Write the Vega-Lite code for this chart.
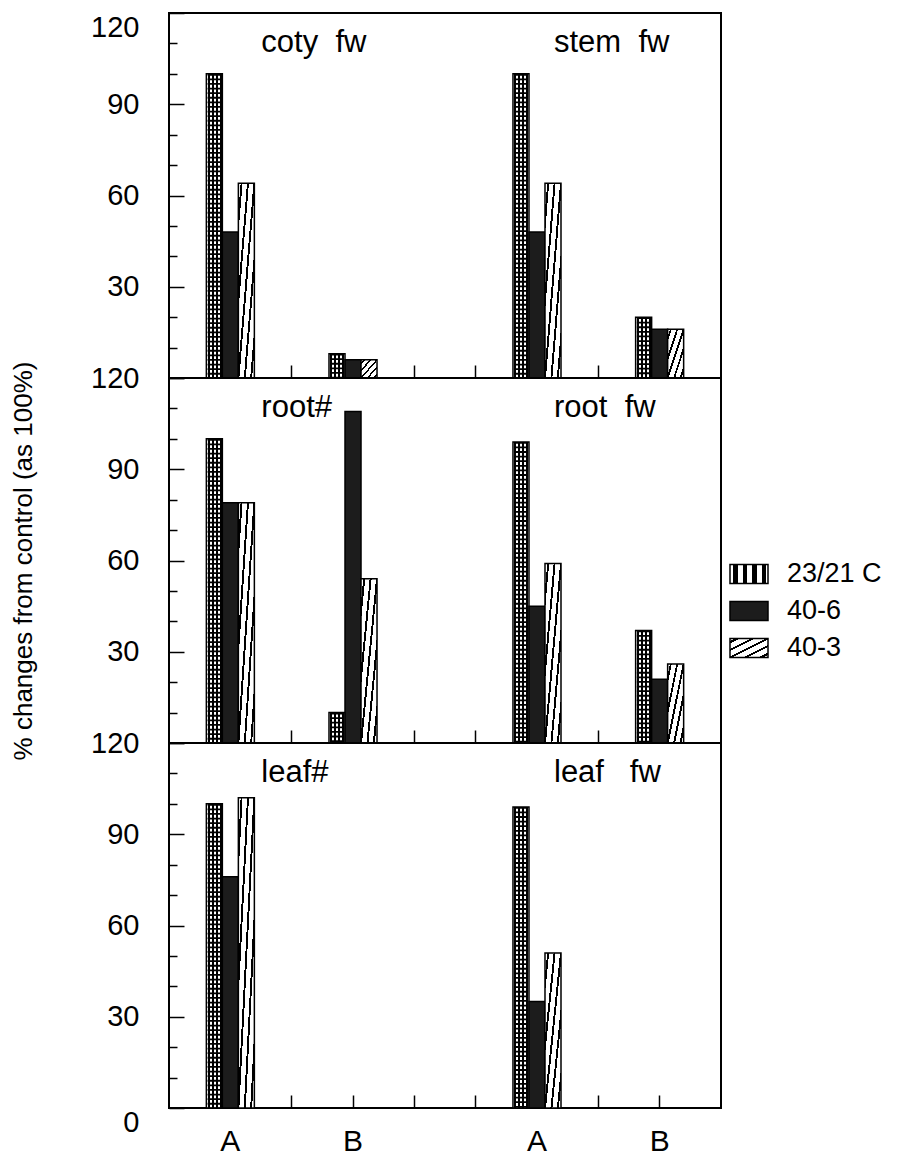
{
  "$schema": "https://vega.github.io/schema/vega-lite/v6.json",
  "padding": {"left": 9, "top": 11, "right": 5, "bottom": 3},
  "background": "white",
  "bounds": "flush",
  "spacing": 0,
  "config": {
    "font": "Liberation Sans",
    "view": {"stroke": "black", "strokeWidth": 2},
    "axis": {
      "domain": false, "grid": false, "tickColor": "black", "tickWidth": 1.5,
      "labelColor": "black", "labelFont": "Liberation Sans", "labelFontSize": 29,
      "labelOverlap": false, "labelFlush": false, "labelBound": false, "labelAngle": 0,
      "titleFont": "Liberation Sans", "titleColor": "black", "titleFontWeight": "normal"
    },
    "axisX": {"tickSize": -13, "labelPadding": 31, "labelFontSize": 30}
  },
  "resolve": {"scale": {"x": "independent", "y": "independent", "fill": "shared"}, "legend": {"fill": "shared"}},
  "data": {"values": [
    {"row": 1, "measure": "coty\u00a0\u00a0fw", "pos": "A1", "series": "23/21 C", "value": 100},
    {"row": 1, "measure": "coty\u00a0\u00a0fw", "pos": "A1", "series": "40-6", "value": 48},
    {"row": 1, "measure": "coty\u00a0\u00a0fw", "pos": "A1", "series": "40-3", "value": 64},
    {"row": 1, "measure": "coty\u00a0\u00a0fw", "pos": "B1", "series": "23/21 C", "value": 8},
    {"row": 1, "measure": "coty\u00a0\u00a0fw", "pos": "B1", "series": "40-6", "value": 6},
    {"row": 1, "measure": "coty\u00a0\u00a0fw", "pos": "B1", "series": "40-3", "value": 6},
    {"row": 1, "measure": "stem\u00a0\u00a0fw", "pos": "A2", "series": "23/21 C", "value": 100},
    {"row": 1, "measure": "stem\u00a0\u00a0fw", "pos": "A2", "series": "40-6", "value": 48},
    {"row": 1, "measure": "stem\u00a0\u00a0fw", "pos": "A2", "series": "40-3", "value": 64},
    {"row": 1, "measure": "stem\u00a0\u00a0fw", "pos": "B2", "series": "23/21 C", "value": 20},
    {"row": 1, "measure": "stem\u00a0\u00a0fw", "pos": "B2", "series": "40-6", "value": 16},
    {"row": 1, "measure": "stem\u00a0\u00a0fw", "pos": "B2", "series": "40-3", "value": 16},
    {"row": 2, "measure": "root#", "pos": "A1", "series": "23/21 C", "value": 100},
    {"row": 2, "measure": "root#", "pos": "A1", "series": "40-6", "value": 79},
    {"row": 2, "measure": "root#", "pos": "A1", "series": "40-3", "value": 79},
    {"row": 2, "measure": "root#", "pos": "B1", "series": "23/21 C", "value": 10},
    {"row": 2, "measure": "root#", "pos": "B1", "series": "40-6", "value": 109},
    {"row": 2, "measure": "root#", "pos": "B1", "series": "40-3", "value": 54},
    {"row": 2, "measure": "root\u00a0\u00a0fw", "pos": "A2", "series": "23/21 C", "value": 99},
    {"row": 2, "measure": "root\u00a0\u00a0fw", "pos": "A2", "series": "40-6", "value": 45},
    {"row": 2, "measure": "root\u00a0\u00a0fw", "pos": "A2", "series": "40-3", "value": 59},
    {"row": 2, "measure": "root\u00a0\u00a0fw", "pos": "B2", "series": "23/21 C", "value": 37},
    {"row": 2, "measure": "root\u00a0\u00a0fw", "pos": "B2", "series": "40-6", "value": 21},
    {"row": 2, "measure": "root\u00a0\u00a0fw", "pos": "B2", "series": "40-3", "value": 26},
    {"row": 3, "measure": "leaf#", "pos": "A1", "series": "23/21 C", "value": 100},
    {"row": 3, "measure": "leaf#", "pos": "A1", "series": "40-6", "value": 76},
    {"row": 3, "measure": "leaf#", "pos": "A1", "series": "40-3", "value": 102},
    {"row": 3, "measure": "leaf\u00a0\u00a0\u00a0fw", "pos": "A2", "series": "23/21 C", "value": 99},
    {"row": 3, "measure": "leaf\u00a0\u00a0\u00a0fw", "pos": "A2", "series": "40-6", "value": 35},
    {"row": 3, "measure": "leaf\u00a0\u00a0\u00a0fw", "pos": "A2", "series": "40-3", "value": 51}
  ]},
  "vconcat": [
    {
      "width": 552, "height": 365,
      "transform": [{"filter": "datum.row === 1"}],
      "encoding": {
        "x": {"field": "pos", "type": "nominal", "scale": {"domain": ["A1", "s2", "B1", "s4", "s5", "A2", "s7", "B2"], "paddingInner": 0.217, "paddingOuter": 0.609}, "axis": {"labels": false, "title": null}},
        "y": {"field": "value", "type": "quantitative", "scale": {"domain": [0, 120], "nice": false},
          "axis": {"values": [0, 10, 20, 30, 40, 50, 60, 70, 80, 90, 100, 110, 120], "title": null,
            "labelExpr": "datum.value % 30 === 0 && datum.value > 0 ? datum.label : ''",
            "labelBaseline": {"condition": {"test": "datum.value === 120", "value": "top"}, "value": "middle"},
            "tickSize": {"condition": {"test": "datum.value % 30 === 0", "value": -15}, "value": -8},
            "labelPadding": 45}}
      },
      "layer": [
        {
          "mark": {"type": "bar", "stroke": "black", "strokeWidth": 1.5},
          "encoding": {
            "xOffset": {"field": "series", "type": "nominal", "scale": {"domain": ["23/21 C", "40-6", "40-3"], "paddingInner": 0, "paddingOuter": 0}},
            "fill": {"field": "series", "type": "nominal",
              "scale": {"domain": ["23/21 C", "40-6", "40-3"], "range": [
                {"expr": "{gradient:'linear',x1:0,y1:0,x2:1,y2:0,stops:[{offset:0,color:'#fff'},{offset:0.08,color:'#fff'},{offset:0.08,color:'#000'},{offset:0.2,color:'#000'},{offset:0.2,color:'#fff'},{offset:0.33,color:'#fff'},{offset:0.33,color:'#000'},{offset:0.45,color:'#000'},{offset:0.45,color:'#fff'},{offset:0.58,color:'#fff'},{offset:0.58,color:'#000'},{offset:0.7,color:'#000'},{offset:0.7,color:'#fff'},{offset:0.83,color:'#fff'},{offset:0.83,color:'#000'},{offset:0.95,color:'#000'},{offset:0.95,color:'#fff'},{offset:1,color:'#fff'}]}"},
                "#1c1c1c",
                {"expr": "{gradient:'linear',x1:0,y1:0,x2:1,y2:1,stops:[{offset:0,color:'#fff'},{offset:0.07,color:'#fff'},{offset:0.07,color:'#000'},{offset:0.13,color:'#000'},{offset:0.13,color:'#fff'},{offset:0.27,color:'#fff'},{offset:0.27,color:'#000'},{offset:0.33,color:'#000'},{offset:0.33,color:'#fff'},{offset:0.47,color:'#fff'},{offset:0.47,color:'#000'},{offset:0.53,color:'#000'},{offset:0.53,color:'#fff'},{offset:0.67,color:'#fff'},{offset:0.67,color:'#000'},{offset:0.73,color:'#000'},{offset:0.73,color:'#fff'},{offset:0.87,color:'#fff'},{offset:0.87,color:'#000'},{offset:0.93,color:'#000'},{offset:0.93,color:'#fff'},{offset:1,color:'#fff'}]}"}
              ]},
              "legend": {"title": null, "orient": "none", "legendX": 560, "legendY": 541, "padding": 0,
                "symbolType": "M-1,-0.5H1V0.5H-1Z", "symbolSize": 1444, "symbolStrokeColor": "black", "symbolStrokeWidth": 1.5, "symbolOpacity": 1,
                "labelFontSize": 27, "labelFont": "Liberation Sans", "labelColor": "black", "labelOffset": 18, "rowPadding": 4}}
          }
        },
        {
          "transform": [{"filter": "datum.series === '23/21 C'"}],
          "mark": {"type": "rule", "stroke": "black", "strokeWidth": 13.5, "strokeDash": [1.8, 2.8]},
          "encoding": {
            "xOffset": {"field": "series", "type": "nominal", "scale": {"domain": ["23/21 C", "40-6", "40-3"], "paddingInner": 0, "paddingOuter": 0}},
            "y2": {"datum": 0}
          }
        },
        {
          "transform": [{"filter": "datum.pos === 'A1' && datum.series === '23/21 C'"}],
          "mark": {"type": "text", "align": "left", "baseline": "middle", "dx": 31, "fontSize": 31, "color": "black"},
          "encoding": {"y": {"datum": 110, "type": "quantitative",
            "axis": {"values": [0, 10, 20, 30, 40, 50, 60, 70, 80, 90, 100, 110, 120], "title": null,
              "labelExpr": "datum.value % 30 === 0 && datum.value > 0 ? datum.label : ''",
              "labelBaseline": {"condition": {"test": "datum.value === 120", "value": "top"}, "value": "middle"},
              "tickSize": {"condition": {"test": "datum.value % 30 === 0", "value": -15}, "value": -8},
              "labelPadding": 45}}, "text": {"field": "measure"}}
        },
        {
          "transform": [{"filter": "datum.pos === 'A2' && datum.series === '23/21 C'"}],
          "mark": {"type": "text", "align": "left", "baseline": "middle", "dx": 17, "fontSize": 31, "color": "black"},
          "encoding": {"y": {"datum": 110, "type": "quantitative",
            "axis": {"values": [0, 10, 20, 30, 40, 50, 60, 70, 80, 90, 100, 110, 120], "title": null,
              "labelExpr": "datum.value % 30 === 0 && datum.value > 0 ? datum.label : ''",
              "labelBaseline": {"condition": {"test": "datum.value === 120", "value": "top"}, "value": "middle"},
              "tickSize": {"condition": {"test": "datum.value % 30 === 0", "value": -15}, "value": -8},
              "labelPadding": 45}}, "text": {"field": "measure"}}
        }
      ]
    },
    {
      "width": 552, "height": 365,
      "transform": [{"filter": "datum.row === 2"}],
      "encoding": {
        "x": {"field": "pos", "type": "nominal", "scale": {"domain": ["A1", "s2", "B1", "s4", "s5", "A2", "s7", "B2"], "paddingInner": 0.217, "paddingOuter": 0.609}, "axis": {"labels": false, "title": null}},
        "y": {"field": "value", "type": "quantitative", "scale": {"domain": [0, 120], "nice": false},
          "axis": {"values": [0, 10, 20, 30, 40, 50, 60, 70, 80, 90, 100, 110, 120],
            "title": "% changes from control (as 100%)", "titleFontSize": 26, "titlePadding": 54,
            "labelExpr": "datum.value % 30 === 0 && datum.value > 0 ? datum.label : ''",
            "labelBaseline": "middle",
            "tickSize": {"condition": {"test": "datum.value % 30 === 0", "value": -15}, "value": -8},
            "labelPadding": 45}}
      },
      "layer": [
        {
          "mark": {"type": "bar", "stroke": "black", "strokeWidth": 1.5},
          "encoding": {
            "xOffset": {"field": "series", "type": "nominal", "scale": {"domain": ["23/21 C", "40-6", "40-3"], "paddingInner": 0, "paddingOuter": 0}},
            "fill": {"field": "series", "type": "nominal",
              "scale": {"domain": ["23/21 C", "40-6", "40-3"]},
              "legend": {"title": null, "orient": "none", "legendX": 560, "legendY": 541, "padding": 0,
                "symbolType": "M-1,-0.5H1V0.5H-1Z", "symbolSize": 1444, "symbolStrokeColor": "black", "symbolStrokeWidth": 1.5, "symbolOpacity": 1,
                "labelFontSize": 27, "labelFont": "Liberation Sans", "labelColor": "black", "labelOffset": 18, "rowPadding": 4}}
          }
        },
        {
          "transform": [{"filter": "datum.series === '23/21 C'"}],
          "mark": {"type": "rule", "stroke": "black", "strokeWidth": 13.5, "strokeDash": [1.8, 2.8]},
          "encoding": {
            "xOffset": {"field": "series", "type": "nominal", "scale": {"domain": ["23/21 C", "40-6", "40-3"], "paddingInner": 0, "paddingOuter": 0}},
            "y2": {"datum": 0}
          }
        },
        {
          "transform": [{"filter": "datum.pos === 'A1' && datum.series === '23/21 C'"}],
          "mark": {"type": "text", "align": "left", "baseline": "middle", "dx": 31, "fontSize": 31, "color": "black"},
          "encoding": {"y": {"datum": 110, "type": "quantitative",
            "axis": {"values": [0, 10, 20, 30, 40, 50, 60, 70, 80, 90, 100, 110, 120],
              "title": "% changes from control (as 100%)", "titleFontSize": 26, "titlePadding": 54,
              "labelExpr": "datum.value % 30 === 0 && datum.value > 0 ? datum.label : ''",
              "labelBaseline": "middle",
              "tickSize": {"condition": {"test": "datum.value % 30 === 0", "value": -15}, "value": -8},
              "labelPadding": 45}}, "text": {"field": "measure"}}
        },
        {
          "transform": [{"filter": "datum.pos === 'A2' && datum.series === '23/21 C'"}],
          "mark": {"type": "text", "align": "left", "baseline": "middle", "dx": 17, "fontSize": 31, "color": "black"},
          "encoding": {"y": {"datum": 110, "type": "quantitative",
            "axis": {"values": [0, 10, 20, 30, 40, 50, 60, 70, 80, 90, 100, 110, 120],
              "title": "% changes from control (as 100%)", "titleFontSize": 26, "titlePadding": 54,
              "labelExpr": "datum.value % 30 === 0 && datum.value > 0 ? datum.label : ''",
              "labelBaseline": "middle",
              "tickSize": {"condition": {"test": "datum.value % 30 === 0", "value": -15}, "value": -8},
              "labelPadding": 45}}, "text": {"field": "measure"}}
        }
      ]
    },
    {
      "width": 552, "height": 365,
      "transform": [{"filter": "datum.row === 3"}],
      "encoding": {
        "x": {"field": "pos", "type": "nominal", "scale": {"domain": ["A1", "s2", "B1", "s4", "s5", "A2", "s7", "B2"], "paddingInner": 0.217, "paddingOuter": 0.609},
          "axis": {"title": null, "labelExpr": "indexof(['A1','B1','A2','B2'], datum.value) >= 0 ? slice(datum.value, 0, 1) : ''"}},
        "y": {"field": "value", "type": "quantitative", "scale": {"domain": [0, 120], "nice": false},
          "axis": {"values": [0, 10, 20, 30, 40, 50, 60, 70, 80, 90, 100, 110, 120], "title": null,
            "labelExpr": "datum.value % 30 === 0 ? datum.label : ''",
            "labelBaseline": {"condition": {"test": "datum.value === 0", "value": "top"}, "value": "middle"},
            "tickSize": {"condition": {"test": "datum.value % 30 === 0", "value": -15}, "value": -8},
            "labelPadding": 45}}
      },
      "layer": [
        {
          "mark": {"type": "bar", "stroke": "black", "strokeWidth": 1.5},
          "encoding": {
            "xOffset": {"field": "series", "type": "nominal", "scale": {"domain": ["23/21 C", "40-6", "40-3"], "paddingInner": 0, "paddingOuter": 0}},
            "fill": {"field": "series", "type": "nominal",
              "scale": {"domain": ["23/21 C", "40-6", "40-3"]},
              "legend": {"title": null, "orient": "none", "legendX": 560, "legendY": 541, "padding": 0,
                "symbolType": "M-1,-0.5H1V0.5H-1Z", "symbolSize": 1444, "symbolStrokeColor": "black", "symbolStrokeWidth": 1.5, "symbolOpacity": 1,
                "labelFontSize": 27, "labelFont": "Liberation Sans", "labelColor": "black", "labelOffset": 18, "rowPadding": 4}}
          }
        },
        {
          "transform": [{"filter": "datum.series === '23/21 C'"}],
          "mark": {"type": "rule", "stroke": "black", "strokeWidth": 13.5, "strokeDash": [1.8, 2.8]},
          "encoding": {
            "xOffset": {"field": "series", "type": "nominal", "scale": {"domain": ["23/21 C", "40-6", "40-3"], "paddingInner": 0, "paddingOuter": 0}},
            "y2": {"datum": 0}
          }
        },
        {
          "transform": [{"filter": "datum.pos === 'A1' && datum.series === '23/21 C'"}],
          "mark": {"type": "text", "align": "left", "baseline": "middle", "dx": 31, "fontSize": 31, "color": "black"},
          "encoding": {"y": {"datum": 110, "type": "quantitative",
            "axis": {"values": [0, 10, 20, 30, 40, 50, 60, 70, 80, 90, 100, 110, 120], "title": null,
              "labelExpr": "datum.value % 30 === 0 ? datum.label : ''",
              "labelBaseline": {"condition": {"test": "datum.value === 0", "value": "top"}, "value": "middle"},
              "tickSize": {"condition": {"test": "datum.value % 30 === 0", "value": -15}, "value": -8},
              "labelPadding": 45}}, "text": {"field": "measure"}}
        },
        {
          "transform": [{"filter": "datum.pos === 'A2' && datum.series === '23/21 C'"}],
          "mark": {"type": "text", "align": "left", "baseline": "middle", "dx": 17, "fontSize": 31, "color": "black"},
          "encoding": {"y": {"datum": 110, "type": "quantitative",
            "axis": {"values": [0, 10, 20, 30, 40, 50, 60, 70, 80, 90, 100, 110, 120], "title": null,
              "labelExpr": "datum.value % 30 === 0 ? datum.label : ''",
              "labelBaseline": {"condition": {"test": "datum.value === 0", "value": "top"}, "value": "middle"},
              "tickSize": {"condition": {"test": "datum.value % 30 === 0", "value": -15}, "value": -8},
              "labelPadding": 45}}, "text": {"field": "measure"}}
        }
      ]
    }
  ]
}
